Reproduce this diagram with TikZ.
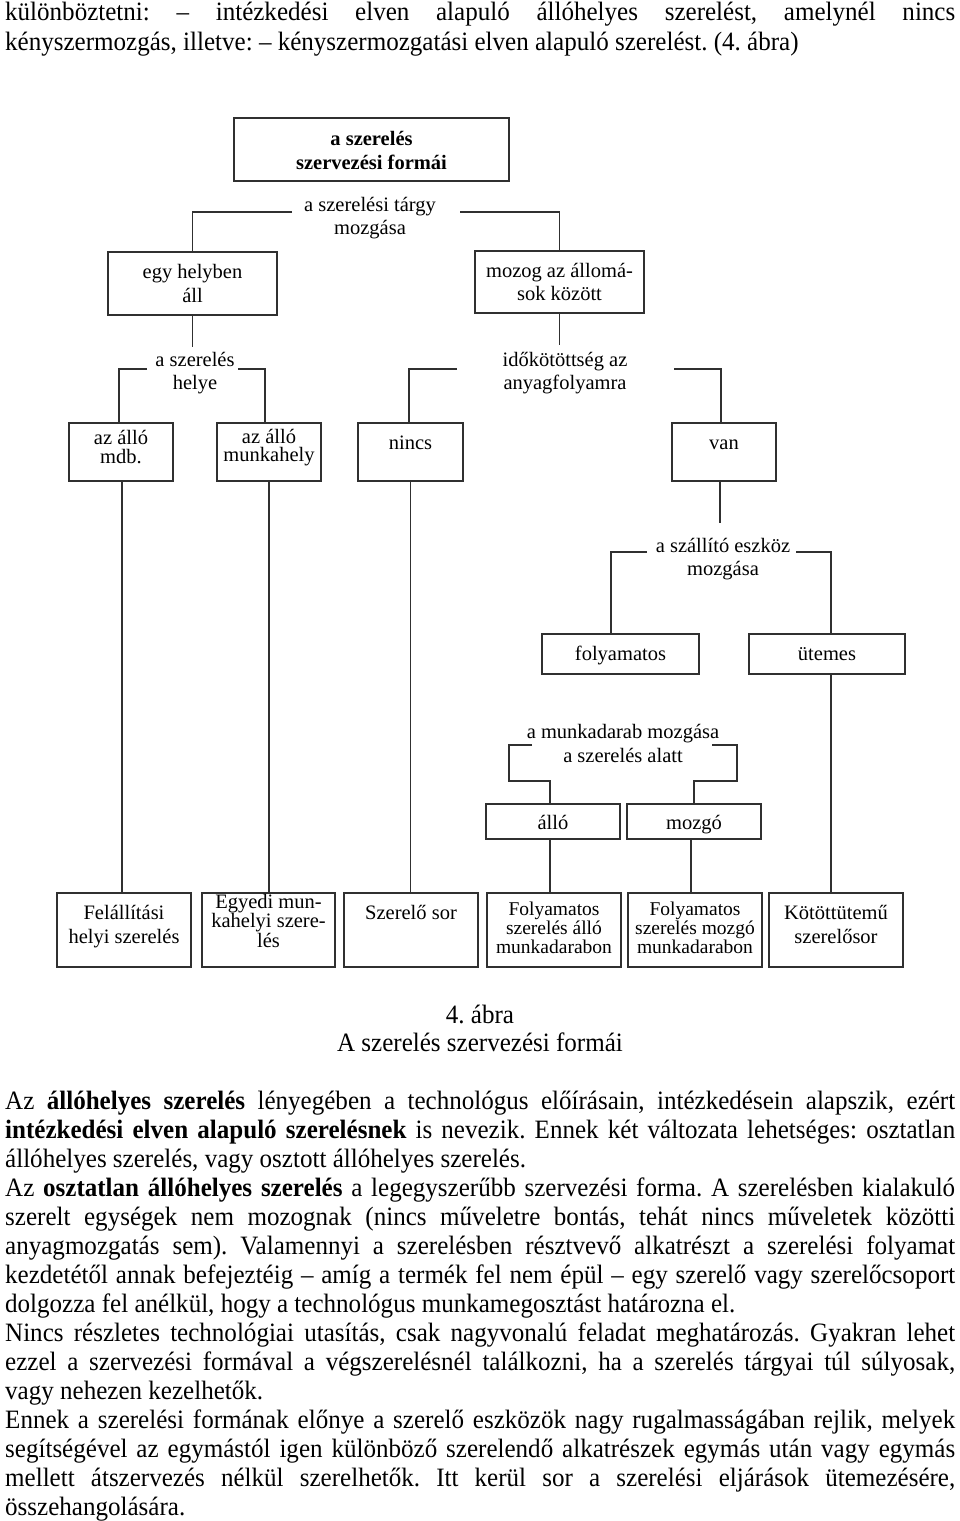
\documentclass[tikz,border=0pt]{standalone}
\usepackage{fontspec}
\setmainfont{Liberation Serif}
\newfontfamily\bodyfont{Liberation Serif}[FakeStretch=0.945]
\definecolor{lc}{HTML}{303030}
\newcommand\fz[2]{\fontsize{#1pt}{#2pt}\selectfont}
\newcommand\bxt[5]{\parbox[c][#2pt][t]{#1pt}{\centering#4\rule{0pt}{#3pt}#5\par}}
\frenchspacing
\begin{document}
\begin{tikzpicture}[x=1pt,y=-1pt,
  box/.style={draw=lc,line width=1.9pt,inner sep=0pt,outer sep=0pt},
  lab/.style={inner sep=0pt,outer sep=0pt},
  conn/.style={draw=lc,line width=1.9pt},
  body/.style={anchor=base west,inner sep=0pt,font=\bodyfont\fz{26.5}{29}},
  capt/.style={anchor=base,inner sep=0pt,font=\bodyfont\fz{26.5}{29}}]
\useasboundingbox (0,0) rectangle (960,1521);

% ---------- text above ----------
\node[body] (t1) at (5,20) {\makebox[950pt][s]{különböztetni: – intézkedési elven alapuló állóhelyes szerelést, amelynél nincs}};
\node[body] (t2) at (5,50) {kényszermozgás, illetve: – kényszermozgatási elven alapuló szerelést. (4. ábra)};

% ---------- boxes ----------
\node[box] (top) at (371.5,149.5) {\bxt{275}{63}{27}{\bfseries\fz{20.5}{24}}{a szerelés\\szervezési formái}};
\node[box] (egy) at (192.5,283.5) {\bxt{169}{63}{26}{\fz{20.5}{24}}{egy helyben\\áll}};
\node[box] (mozog) at (559.5,282) {\bxt{169}{62}{26}{\fz{20.5}{23}}{mozog az állomá-\\sok között}};
\node[box] (mdb) at (121,452) {\bxt{104}{58}{21}{\fz{20.5}{19}}{az álló\\mdb.}};
\node[box] (munk) at (269,452) {\bxt{104}{58}{20}{\fz{20.5}{18}}{az álló\\munkahely}};
\node[box] (nincs) at (410.5,452) {\bxt{105}{58}{26}{\fz{20.5}{24}}{nincs}};
\node[box] (van) at (724,452) {\bxt{104}{58}{26}{\fz{20.5}{24}}{van}};
\node[box] (folyam) at (620.5,654) {\bxt{157}{40}{26}{\fz{20.5}{24}}{folyamatos}};
\node[box] (utem) at (827,654) {\bxt{156}{40}{26}{\fz{20.5}{24}}{ütemes}};
\node[box] (allo) at (553,821.5) {\bxt{134}{35}{25}{\fz{20.5}{24}}{álló}};
\node[box] (mozgo) at (694,821.5) {\bxt{134}{35}{25}{\fz{20.5}{24}}{mozgó}};
\node[box] (fel) at (124,930) {\bxt{134}{74}{26}{\fz{20.5}{24}}{Felállítási\\helyi szerelés}};
\node[box] (egyedi) at (268.5,930) {\bxt{133}{74}{15}{\fz{20.5}{18.5}}{Egyedi mun-\\kahelyi szere-\\lés}};
\node[box] (szsor) at (411,930) {\bxt{134}{74}{26}{\fz{20.5}{24}}{Szerelő sor}};
\node[box] (fa) at (554,930) {\bxt{134}{74}{22}{\fz{19.5}{19}}{Folyamatos\\szerelés álló\\munkadarabon}};
\node[box] (fm) at (695,930) {\bxt{134}{74}{22}{\fz{19.5}{19}}{Folyamatos\\szerelés mozgó\\munkadarabon}};
\node[box] (kot) at (836,930) {\bxt{134}{74}{26}{\fz{20.5}{24}}{Kötöttütemű\\szerelősor}};

% ---------- free labels ----------
\node[lab] (lt) at (370,217) {\bxt{140}{46}{17}{\fz{20.5}{23}}{a szerelési tárgy\\mozgása}};
\node[lab] (hl) at (195,372) {\bxt{84}{46}{17}{\fz{20.5}{23}}{a szerelés\\helye}};
\node[lab] (ik) at (565,372) {\bxt{130}{46}{17}{\fz{20.5}{23}}{időkötöttség az\\anyagfolyamra}};
\node[lab] (sz) at (723,558) {\bxt{140}{46}{17}{\fz{20.5}{23}}{a szállító eszköz\\mozgása}};
\node[lab] (mm) at (623,744.5) {\bxt{200}{47}{17}{\fz{20.5}{24}}{a munkadarab mozgása\\a szerelés alatt}};

% ---------- connectors ----------
\coordinate (lt-l) at (292,212);
\coordinate (lt-r) at (460,212);
\draw[conn] (lt-l) -| (egy.north);
\draw[conn] (lt-r) -| (mozog.north);

\coordinate (hl-t) at (192.5,347);
\draw[conn] (egy.south) -- (hl-t);
\coordinate (hl-l) at (147,369);
\coordinate (hl-r) at (238,369);
\draw[conn] (hl-l) -| ([xshift=-2pt]mdb.north);
\draw[conn] (hl-r) -| ([xshift=-4pt]munk.north);

\coordinate (ik-t) at (559.5,345);
\draw[conn] (mozog.south) -- (ik-t);
\coordinate (ik-l) at (457,369);
\coordinate (ik-r) at (674,369);
\draw[conn] (ik-l) -| ([xshift=-1.5pt]nincs.north);
\draw[conn] (ik-r) -| ([xshift=-3pt]van.north);

\coordinate (sz-t) at (720,523);
\draw[conn] ([xshift=-4pt]van.south) -- (sz-t);
\coordinate (sz-l) at (647,552);
\coordinate (sz-r) at (796,552);
\draw[conn] (sz-l) -| ([xshift=-9.5pt]folyam.north);
\draw[conn] (sz-r) -| ([xshift=4pt]utem.north);

\coordinate (mm-l) at (532,745);
\coordinate (mm-r) at (712,745);
\draw[conn] (mm-l) -- ++(-23,0) -- ++(0,36) -| ([xshift=-3pt]allo.north);
\draw[conn] (mm-r) -- ++(25,0) -- ++(0,36) -| (mozgo.north);

\draw[conn] ([xshift=1pt]mdb.south) -- ([xshift=1pt]mdb.south |- fel.north);
\draw[conn] (munk.south) -- (munk.south |- egyedi.north);
\draw[conn] (nincs.south) -- (nincs.south |- szsor.north);
\draw[conn] ([xshift=-3pt]allo.south) -- ([xshift=-3pt]allo.south |- fa.north);
\draw[conn] ([xshift=-3pt]mozgo.south) -- ([xshift=-3pt]mozgo.south |- fm.north);
\draw[conn] ([xshift=4pt]utem.south) -- ([xshift=4pt]utem.south |- kot.north);

% ---------- caption ----------
\node[capt] (c1) at (480,1023) {4. ábra};
\node[capt] (c2) at (480,1051) {A szerelés szervezési formái};

% ---------- body text ----------
\node[body] (b1) at (5,1109) {\makebox[950pt][s]{Az \textbf{állóhelyes szerelés} lényegében a technológus előírásain, intézkedésein alapszik, ezért}};
\node[body] (b2) at (5,1138) {\makebox[950pt][s]{\textbf{intézkedési elven alapuló szerelésnek} is nevezik. Ennek két változata lehetséges: osztatlan}};
\node[body] (b3) at (5,1167) {állóhelyes szerelés, vagy osztott állóhelyes szerelés.};
\node[body] (b4) at (5,1196) {\makebox[950pt][s]{Az \textbf{osztatlan állóhelyes szerelés} a legegyszerűbb szervezési forma. A szerelésben kialakuló}};
\node[body] (b5) at (5,1225) {\makebox[950pt][s]{szerelt egységek nem mozognak (nincs műveletre bontás, tehát nincs műveletek közötti}};
\node[body] (b6) at (5,1254) {\makebox[950pt][s]{anyagmozgatás sem). Valamennyi a szerelésben résztvevő alkatrészt a szerelési folyamat}};
\node[body] (b7) at (5,1283) {\makebox[950pt][s]{kezdetétől annak befejeztéig – amíg a termék fel nem épül – egy szerelő vagy szerelőcsoport}};
\node[body] (b8) at (5,1312) {dolgozza fel anélkül, hogy a technológus munkamegosztást határozna el.};
\node[body] (b9) at (5,1341) {\makebox[950pt][s]{Nincs részletes technológiai utasítás, csak nagyvonalú feladat meghatározás. Gyakran lehet}};
\node[body] (b10) at (5,1370) {\makebox[950pt][s]{ezzel a szervezési formával a végszerelésnél találkozni, ha a szerelés tárgyai túl súlyosak,}};
\node[body] (b11) at (5,1399) {vagy nehezen kezelhetők.};
\node[body] (b12) at (5,1428) {\makebox[950pt][s]{Ennek a szerelési formának előnye a szerelő eszközök nagy rugalmasságában rejlik, melyek}};
\node[body] (b13) at (5,1457) {\makebox[950pt][s]{segítségével az egymástól igen különböző szerelendő alkatrészek egymás után vagy egymás}};
\node[body] (b14) at (5,1486) {\makebox[950pt][s]{mellett átszervezés nélkül szerelhetők. Itt kerül sor a szerelési eljárások ütemezésére,}};
\node[body] (b15) at (5,1515) {összehangolására.};
\end{tikzpicture}
\end{document}
